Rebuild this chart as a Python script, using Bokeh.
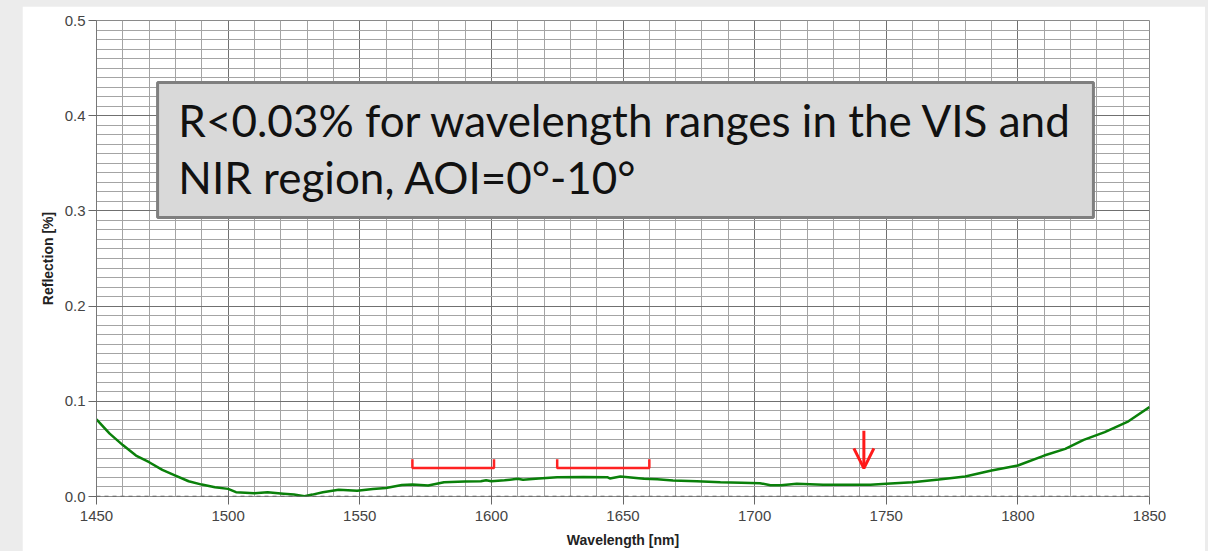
from bokeh.plotting import figure
from bokeh.models import (Range1d, FixedTicker, PrintfTickFormatter, Span, BoxAnnotation,
                          Label, Arrow, OpenHead)
from bokeh.layouts import column
from bokeh.embed import file_html
from bokeh.resources import INLINE

# ---- data ----
wavelength = [1450, 1455, 1460, 1465, 1470, 1475, 1480, 1485, 1490, 1495, 1500, 1503,
              1510, 1515, 1521, 1525, 1529, 1532, 1536, 1542, 1549, 1555, 1560, 1566,
              1570, 1576, 1582, 1590, 1596, 1598, 1600, 1605, 1610, 1612, 1618, 1625,
              1635, 1644, 1645, 1649, 1652, 1658, 1663, 1669, 1678, 1687, 1695, 1702,
              1706, 1710, 1716, 1726, 1735, 1744, 1750, 1760, 1770, 1780, 1790, 1800,
              1810, 1818, 1825, 1833, 1842, 1850]
reflection = [0.081, 0.066, 0.054, 0.043, 0.036, 0.028, 0.022, 0.016, 0.0125, 0.0098, 0.008, 0.0045,
              0.0035, 0.0045, 0.003, 0.002, 0.0003, 0.002, 0.0045, 0.007, 0.006, 0.008, 0.009, 0.012,
              0.0125, 0.0115, 0.015, 0.0158, 0.016, 0.017, 0.016, 0.017, 0.0186, 0.0175, 0.019, 0.0203,
              0.0205, 0.0203, 0.019, 0.021, 0.0203, 0.0186, 0.018, 0.0168, 0.016, 0.015, 0.0145, 0.014,
              0.0118, 0.0118, 0.0133, 0.0123, 0.0123, 0.0123, 0.0135, 0.015, 0.0178, 0.021, 0.0273, 0.0326,
              0.043, 0.050, 0.0595, 0.0676, 0.079, 0.094]

x_ticks = [1450, 1500, 1550, 1600, 1650, 1700, 1750, 1800, 1850]
y_ticks = [0.0, 0.1, 0.2, 0.3, 0.4, 0.5]

bracket_ranges = [(1570, 1601), (1625, 1660)]
bracket_level = 0.030
bracket_top = 0.039
arrow_x = 1741.5
arrow_from = 0.069
arrow_to = 0.0295

note_lines = ["R<0.03% for wavelength ranges in the VIS and", "NIR region, AOI=0°-10°"]

# ---- figure ----
p = figure(width=1183, height=545, output_backend="svg", toolbar_location=None,
           x_range=Range1d(1450, 1850), y_range=Range1d(0, 0.5),
           min_border_left=74, min_border_right=56, min_border_top=14, min_border_bottom=55)
p.margin = (6, 3, 0, 22)
p.background_fill_color = "white"
p.border_fill_color = "white"
p.outline_line_color = "#8a8a8a"

p.xaxis.ticker = FixedTicker(ticks=x_ticks, minor_ticks=list(range(1450, 1851, 10)))
p.yaxis.ticker = FixedTicker(ticks=y_ticks, minor_ticks=[i / 100 for i in range(0, 51)])
p.yaxis.formatter = PrintfTickFormatter(format="%.1f")

for ax in (p.xaxis[0], p.yaxis[0]):
    ax.major_tick_out = 8
    ax.major_tick_in = 0
    ax.minor_tick_out = 0
    ax.minor_tick_in = 0
    ax.major_tick_line_color = "#666666"
    ax.major_label_text_font = "Liberation Sans"
    ax.major_label_text_font_size = "15px"
    ax.major_label_text_color = "#444444"
    ax.axis_label_text_font = "Liberation Sans"
    ax.axis_label_text_font_style = "bold"
    ax.axis_label_text_font_size = "14px"
    ax.axis_label_text_color = "#222222"

p.xaxis.axis_line_color = None
p.yaxis.axis_line_color = "#777777"
p.xaxis.axis_label = "Wavelength [nm]"
p.yaxis.axis_label = "Reflection [%]"
p.xaxis.major_label_standoff = 6
p.yaxis.major_label_standoff = 3
p.xaxis.axis_label_standoff = 8
p.yaxis.axis_label_standoff = 6

p.xgrid.grid_line_color = "#707070"
p.ygrid.grid_line_color = "#707070"
p.xgrid.minor_grid_line_color = "#a4a4a4"
p.ygrid.minor_grid_line_color = "#a4a4a4"

# zero line (dashed)
p.add_layout(Span(location=0, dimension="width", line_color="#555555",
                  line_dash="4 4", line_width=1.5))

# curve
p.line(wavelength, reflection, line_color="#0a800a", line_width=2.5)

# brackets
bx, by = [], []
for a, b in bracket_ranges:
    bx.append([a, a, b, b])
    by.append([bracket_top, bracket_level, bracket_level, bracket_top])
p.multi_line(bx, by, line_color="#ff2222", line_width=2.5)

# arrow
p.add_layout(Arrow(x_start=arrow_x, y_start=arrow_from, x_end=arrow_x, y_end=arrow_to,
                   line_color="#ff1a1a", line_width=3,
                   end=OpenHead(size=20, line_color="#ff1a1a", line_width=3)))

# note box
p.add_layout(BoxAnnotation(left=1473.2, right=1828.7, bottom=0.293, top=0.435,
                           fill_color="#d9d9d9", fill_alpha=1.0,
                           line_color="#7f7f7f", line_width=3, line_alpha=1.0))
for txt, yy in zip(note_lines, [0.396, 0.336]):
    p.add_layout(Label(x=1481.1, y=yy, text=txt, text_font="Lato", text_font_size="44px",
                       text_color="#111111", text_baseline="alphabetic", text_align="left"))

root = column(p, width=1208, height=551, styles={"background-color": "#ececec"})
open("out.html", "w").write(file_html(root, INLINE))
